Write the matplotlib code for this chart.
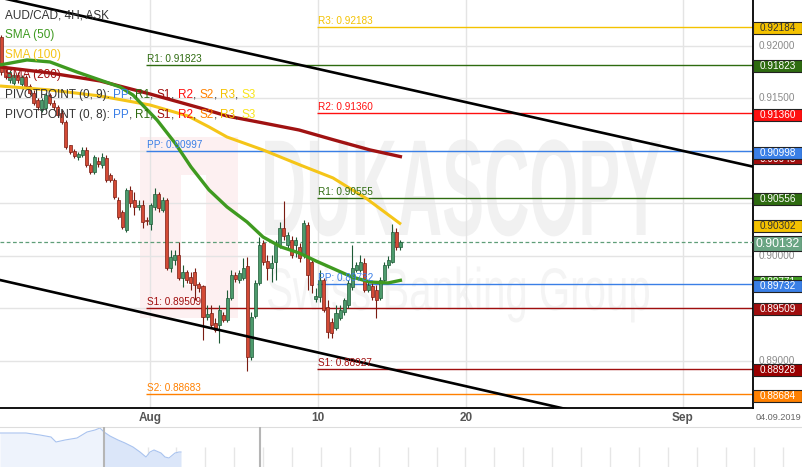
import numpy as np
import matplotlib
matplotlib.use("Agg")
import matplotlib.pyplot as plt
from matplotlib.patches import Rectangle, PathPatch
from matplotlib.textpath import TextPath
from matplotlib.font_manager import FontProperties
from matplotlib.transforms import Affine2D, blended_transform_factory

plt.rcParams['font.family'] = ['Liberation Sans', 'DejaVu Sans']

W, H = 803, 467

# ---------------- data (AUD/CAD 4H candles) ----------------
opens = [0.92086, 0.91790, 0.91676, 0.91648, 0.91724, 0.91638, 0.91705, 0.91619, 0.91552, 0.91486,
         0.91390, 0.91410, 0.91533, 0.91457, 0.91419, 0.91362, 0.91276, 0.91057, 0.91000, 0.90943,
         0.90962, 0.91010, 0.90867, 0.90800, 0.90905, 0.90867, 0.90933, 0.90771, 0.90724, 0.90533,
         0.90419, 0.90248, 0.90629, 0.90533, 0.90467, 0.90486, 0.90343, 0.90305, 0.90467, 0.90590,
         0.90438, 0.90533, 0.89886, 0.89962, 0.90010, 0.89790, 0.89848, 0.89800, 0.89848, 0.89733,
         0.89714, 0.89419, 0.89457, 0.89362, 0.89343, 0.89438, 0.89390, 0.89600, 0.89819, 0.89771,
         0.89790, 0.89905, 0.89038, 0.89429, 0.89743, 0.90124, 0.89952, 0.89886, 0.89943, 0.90105,
         0.90267, 0.90105, 0.90152, 0.90105, 0.90086, 0.90010, 0.90295, 0.89943, 0.89590, 0.89610,
         0.89771, 0.89514, 0.89371, 0.89314, 0.89410, 0.89467, 0.89533, 0.89705, 0.89867, 0.89867,
         0.89933, 0.89676, 0.89714, 0.89676, 0.89600, 0.89771, 0.89914, 0.89943, 0.90229, 0.90086]
highs = [0.92105, 0.91809, 0.91771, 0.91743, 0.91752, 0.91724, 0.91724, 0.91638, 0.91581, 0.91505,
         0.91505, 0.91552, 0.91552, 0.91486, 0.91438, 0.91390, 0.91295, 0.91057, 0.91019, 0.90990,
         0.91038, 0.91038, 0.90886, 0.90962, 0.90943, 0.90981, 0.90962, 0.90790, 0.90743, 0.90562,
         0.90438, 0.90648, 0.90667, 0.90610, 0.90533, 0.90533, 0.90371, 0.90505, 0.90648, 0.90610,
         0.90562, 0.90552, 0.90057, 0.90057, 0.90133, 0.89914, 0.89867, 0.89848, 0.89886, 0.89752,
         0.89724, 0.89533, 0.89533, 0.89410, 0.89533, 0.89467, 0.89676, 0.89867, 0.89848, 0.89867,
         0.89981, 0.89990, 0.89467, 0.89771, 0.90181, 0.90152, 0.90010, 0.90010, 0.90152, 0.90324,
         0.90524, 0.90229, 0.90190, 0.90181, 0.90124, 0.90343, 0.90324, 0.89981, 0.89695, 0.89867,
         0.89790, 0.89581, 0.89410, 0.89533, 0.89533, 0.89600, 0.89771, 0.90105, 0.89943, 0.90010,
         0.89981, 0.89771, 0.89743, 0.89724, 0.89800, 0.89943, 0.90000, 0.90305, 0.90267, 0.90152]
lows = [0.91724, 0.91686, 0.91648, 0.91628, 0.91648, 0.91619, 0.91600, 0.91533, 0.91438, 0.91390,
        0.91371, 0.91390, 0.91438, 0.91390, 0.91324, 0.91257, 0.91019, 0.90971, 0.90933, 0.90914,
        0.90943, 0.90848, 0.90781, 0.90781, 0.90848, 0.90838, 0.90705, 0.90705, 0.90543, 0.90352,
        0.90257, 0.90229, 0.90467, 0.90390, 0.90438, 0.90267, 0.90295, 0.90248, 0.90438, 0.90419,
        0.90419, 0.89867, 0.89848, 0.89914, 0.89771, 0.89705, 0.89743, 0.89676, 0.89581, 0.89657,
        0.89200, 0.89390, 0.89314, 0.89276, 0.89171, 0.89371, 0.89371, 0.89581, 0.89752, 0.89743,
        0.89771, 0.88905, 0.89010, 0.89410, 0.89724, 0.89914, 0.89771, 0.89752, 0.89771, 0.90076,
        0.90152, 0.90076, 0.89981, 0.89990, 0.89943, 0.89981, 0.89676, 0.89648, 0.89562, 0.89562,
        0.89467, 0.89219, 0.89219, 0.89295, 0.89390, 0.89438, 0.89505, 0.89676, 0.89848, 0.89848,
        0.89657, 0.89657, 0.89581, 0.89410, 0.89581, 0.89752, 0.89886, 0.89933, 0.90057, 0.90057]
closes = [0.91752, 0.91705, 0.91752, 0.91724, 0.91676, 0.91705, 0.91619, 0.91552, 0.91457, 0.91419,
          0.91486, 0.91533, 0.91457, 0.91419, 0.91343, 0.91276, 0.91038, 0.90990, 0.90952, 0.90971,
          0.91010, 0.90867, 0.90800, 0.90943, 0.90876, 0.90943, 0.90724, 0.90724, 0.90562, 0.90371,
          0.90276, 0.90629, 0.90505, 0.90467, 0.90486, 0.90324, 0.90333, 0.90486, 0.90590, 0.90457,
          0.90533, 0.89886, 0.89990, 0.90010, 0.89790, 0.89848, 0.89771, 0.89743, 0.89724, 0.89695,
          0.89419, 0.89448, 0.89343, 0.89295, 0.89486, 0.89390, 0.89600, 0.89819, 0.89781, 0.89838,
          0.89886, 0.89038, 0.89419, 0.89743, 0.90105, 0.89943, 0.89886, 0.89933, 0.90105, 0.90267,
          0.90190, 0.90200, 0.90010, 0.90152, 0.89981, 0.90314, 0.89819, 0.89724, 0.89619, 0.89771,
          0.89486, 0.89276, 0.89267, 0.89457, 0.89486, 0.89581, 0.89743, 0.89886, 0.89914, 0.89943,
          0.89676, 0.89724, 0.89610, 0.89581, 0.89771, 0.89914, 0.89962, 0.90229, 0.90086, 0.90133]

# moving averages (bar index, price)
sma50_x = [-0.37, 6.33, 12.03, 18.73, 24.44, 29.40, 32.63, 38.59, 43.05, 47.02, 51.49,
           55.96, 60.92, 64.89, 69.35, 73.82, 78.04, 82.51, 86.97, 91.44, 95.91, 99.38]
sma50_y = [0.91819, 0.91867, 0.91848, 0.91752, 0.91676, 0.91610, 0.91533, 0.91295, 0.91076, 0.90848, 0.90629,
           0.90467, 0.90324, 0.90181, 0.90086, 0.90029, 0.89952, 0.89876, 0.89800, 0.89752, 0.89743, 0.89771]
sma100_x = [-0.37, 12.03, 24.44, 36.85, 46.28, 51.49, 55.96, 64.89, 74.07, 82.26, 90.69, 99.13]
sma100_y = [0.91619, 0.91581, 0.91524, 0.91438, 0.91333, 0.91229, 0.91133, 0.91010, 0.90867, 0.90743, 0.90543, 0.90302]
sma200_x = [-0.37, 12.03, 24.44, 36.85, 49.26, 55.96, 64.89, 73.82, 82.51, 91.44, 99.38]
sma200_y = [0.91800, 0.91743, 0.91667, 0.91543, 0.91410, 0.91333, 0.91267, 0.91200, 0.91105, 0.91010, 0.90943]

# channel trend lines (bar index, price)
upper_x, upper_y = [-0.37, 186.47], [0.92461, 0.90851]
lower_x, lower_y = [-0.37, 186.47], [0.89771, 0.88136]

# pivot points: two periods
piv1_start = 35.86
piv1_names = ['R1', 'PP', 'S1', 'S2']
piv1_vals = [0.91823, 0.90997, 0.89509, 0.88683]
piv2_start = 78.29
piv2_names = ['R3', 'R2', 'R1', 'PP', 'S1']
piv2_vals = [0.92183, 0.91360, 0.90555, 0.89732, 0.88927]

last_price = 0.90132

# right-hand price tags
tag_text = ['0.92184', '0.91823', '0.91360', '0.90943', '0.90998', '0.90556', '0.90302',
            '0.90132', '0.89771', '0.89732', '0.89509', '0.88928', '0.88684']
tag_vals = [0.92184, 0.91823, 0.91360, 0.90943, 0.90998, 0.90556, 0.90302,
            0.90132, 0.89771, 0.89732, 0.89509, 0.88928, 0.88684]
grid_vals = [0.92, 0.915, 0.91, 0.905, 0.90, 0.895, 0.89]
axis_label_vals = [0.92, 0.915, 0.90, 0.89]

date_pos = [36.85, 78.5, 115.3, 169.1]
date_labels = ['Aug', '10', '20', 'Sep']

# navigator mini chart
nav_x = [0, 26, 40, 51, 56, 65, 77, 87, 95, 100, 104, 110, 118, 125, 133, 140, 146, 150, 154,
         161, 165, 169, 175, 179, 181]
nav_v = [34, 34, 32, 30, 25, 27, 29, 35, 37, 39, 35, 31, 27, 24, 20, 15, 10, 15, 17,
         14, 10, 9, 14, 15, 15]
nav_window = [104, 260]

# ---------------- colours ----------------
BLUE = '#3a7fe6'
DKGREEN = '#2e6b10'
DKRED = '#a00e0e'
RED = '#ff1010'
ORANGE = '#ff8000'
GOLD = '#f4c200'
YELLOW = '#f8e41c'
SMA50_C = '#3f9a20'
SMA100_C = '#f5c518'
SMA200_C = '#a01212'
piv_col = {'PP': BLUE, 'R1': DKGREEN, 'S1': DKRED, 'R2': RED, 'S2': ORANGE, 'R3': GOLD, 'S3': YELLOW}
tag_bg = [GOLD, DKGREEN, RED, DKRED, BLUE, DKGREEN, GOLD, '#6aa583', SMA50_C, BLUE, DKRED, '#990000', ORANGE]
tag_fg = ['#333333', 'white', 'white', 'white', 'white', 'white', '#333333',
          'white', 'white', 'white', 'white', 'white', 'white']

XMIN, XMAX = -0.372, 186.47
YMIN, YMAX = 0.88552, 0.92438

fig = plt.figure(figsize=(W / 100, H / 100), dpi=100)
ax = fig.add_axes([0, (H - 408) / H, 753 / W, 408 / H])
px_tr = Affine2D().scale(1 / W, 1 / H) + fig.transFigure


def watermark(text, left, right, baseline, cap, color, weight):
    fp = FontProperties(family='Liberation Sans', weight=weight)
    tp = TextPath((0, 0), text, size=100, prop=fp)
    ext = tp.get_extents()
    tr = Affine2D().translate(-ext.x0, 0).scale((right - left) / ext.width, cap / 71.6) \
        .translate(left, H - baseline) + px_tr
    ax.add_patch(PathPatch(tp, transform=tr, fc=color, ec='none', zorder=0.3, clip_on=False))


# watermark logo + text
ax.add_patch(Rectangle((140, H - 318), 98, 181, transform=px_tr, fc='#fdf0f1', ec='none', zorder=0.2))
ax.add_patch(Rectangle((181, H - 285), 25, 110, transform=px_tr, fc='white', ec='none', zorder=0.25))
watermark('DUKASCOPY', 265, 661, 235, 98, '#f1f1f1', 'bold')
watermark('Swiss Banking Group', 268, 649, 310, 43, '#f4f4f4', 'normal')

# candles
x = np.arange(len(closes))
o, c, hi, lo = map(np.array, (opens, closes, highs, lows))
up = c >= o
body_col = np.where(up, '#4c9a6c', '#d34a35')
edge_col = np.where(up, '#1e5a36', '#7a1c12')
ax.vlines(x, lo, hi, colors=edge_col, lw=0.8, zorder=3)
ax.bar(x, np.where(np.abs(c - o) < 2e-5, 2e-5, c - o), bottom=o, width=0.75,
       color=body_col, edgecolor=edge_col, lw=0.5, zorder=4)

# SMAs
ax.plot(sma200_x, sma200_y, color=SMA200_C, lw=2.4, zorder=5, solid_capstyle='butt')
ax.plot(sma100_x, sma100_y, color=SMA100_C, lw=2.2, zorder=5, solid_capstyle='butt')
ax.plot(sma50_x, sma50_y, color=SMA50_C, lw=2.4, zorder=5, solid_capstyle='butt')

# trend channel
ax.plot(upper_x, upper_y, color='black', lw=1.9, zorder=6)
ax.plot(lower_x, lower_y, color='black', lw=1.9, zorder=6)

# pivots
for start, names, vals in ((piv1_start, piv1_names, piv1_vals), (piv2_start, piv2_names, piv2_vals)):
    for n, v in zip(names, vals):
        col = piv_col[n]
        ax.hlines(v, start, XMAX, colors=col, lw=1.0, zorder=2.5)
        ax.text(start + 0.2, v + 0.00008, f'{n}: {v:.5f}', color=col, fontsize=7.2,
                ha='left', va='bottom', zorder=7)

# last price
ax.axhline(last_price, color='#5f9e78', lw=0.9, ls=(0, (3, 2)), zorder=2.6)

ax.set_xlim(XMIN, XMAX)
ax.set_ylim(YMIN, YMAX)
ax.set_yticks(grid_vals)
ax.set_yticklabels([])
ax.tick_params(axis='y', length=0)
ax.set_xticks(date_pos)
ax.set_xticklabels(date_labels, fontsize=8.5, fontweight='bold', color='#555555')
ax.tick_params(axis='x', length=0, pad=3)
ax.grid(True, color='#e4e4e4', lw=1.0)
ax.set_axisbelow(True)
for s in ('left', 'top'):
    ax.spines[s].set_visible(False)
for s in ('right', 'bottom'):
    ax.spines[s].set_color('black')
    ax.spines[s].set_linewidth(1.3)

# right axis labels and tags
bt = blended_transform_factory(ax.transAxes, ax.transData)
pxx = 1.0 / 753
pxy = (YMAX - YMIN) / 408
for v in axis_label_vals:
    ax.text(1 + 6 * pxx, v, f'{v:.5f}', transform=bt, color='#8a8a8a', fontsize=7.2,
            ha='left', va='center', clip_on=False, zorder=8)
for k, (t, v, bg, fg) in enumerate(zip(tag_text, tag_vals, tag_bg, tag_fg)):
    big = v == last_price
    hgt = (15 if big else 12) * pxy
    yc = v - 1.5 * pxy
    z = 9 + k * 0.1
    ax.add_patch(Rectangle((1.0, yc - hgt / 2), 49 * pxx, hgt, transform=bt, fc=bg, ec='#222222',
                           lw=0.8, clip_on=False, zorder=z))
    ax.text(1 + 24.5 * pxx, yc - 0.3 * pxy, t, transform=bt, ha='center', va='center', color=fg,
            fontsize=8.8 if big else 7.2, clip_on=False, zorder=z + 0.05)

ax.text(778 / 753, -10 / 408, '04.09.2019', transform=ax.transAxes, fontsize=6.6, color='#666666',
        ha='center', va='center', clip_on=False)

# legend
rend = fig.canvas.get_renderer()


def rainbow(xa, ya, parts, size=8.5):
    for txt, col in parts:
        t = ax.text(xa, ya, txt, color=col, fontsize=size, transform=ax.transAxes,
                    ha='left', va='center', zorder=10)
        bb = t.get_window_extent(renderer=rend)
        xa = ax.transAxes.inverted().transform((bb.x1, bb.y0))[0]


GREY = '#333333'
piv_parts = []
for k, n in enumerate(['PP', 'R1', 'S1', 'R2', 'S2', 'R3', 'S3']):
    if k:
        piv_parts.append((', ', GREY))
    piv_parts.append((n, piv_col[n]))
legend_rows = [
    [('AUD/CAD, 4H, ASK', GREY)],
    [('SMA (50)', SMA50_C)],
    [('SMA (100)', SMA100_C)],
    [('SMA (200)', SMA200_C)],
    [('PIVOTPOINT (0, 9): ', GREY)] + piv_parts,
    [('PIVOTPOINT (0, 8): ', GREY)] + piv_parts,
]
for r, parts in enumerate(legend_rows):
    rainbow(5 / 753, 1 - (15 + 20 * r) / 408, parts)

# navigator
nav = fig.add_axes([0, 0, 1, 40 / H])
nav.set_xlim(0, W)
nav.set_ylim(0, 40)
nav.vlines(np.arange(32, W, 28.9), 0, 20, colors='#e6e6e6', lw=1, zorder=0)
nx, nv = np.array(nav_x), np.array(nav_v)
nav.fill_between(nx, 0, nv, where=nx <= nav_window[0], color='#eef3fc', lw=0, zorder=1)
nav.fill_between(nx, 0, nv, where=nx >= nav_window[0], color='#dbe6f9', lw=0, zorder=1)
nav.plot(nx, nv, color='#a9c3ef', lw=0.8, zorder=2)
nav.vlines(nav_window, 0, 40, colors='#b5b5b5', lw=1.5, zorder=3)
nav.set_xticks([])
nav.set_yticks([])
for s in ('left', 'right', 'bottom'):
    nav.spines[s].set_visible(False)
nav.spines['top'].set_color('#dddddd')

fig.savefig('out.png', dpi=100)
